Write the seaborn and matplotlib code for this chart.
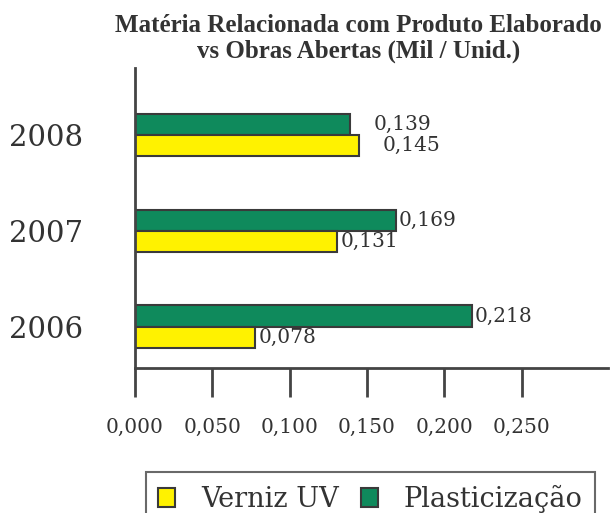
import matplotlib
matplotlib.use("Agg")
import matplotlib.pyplot as plt
import seaborn as sns
import pandas as pd
from matplotlib.patches import Patch

# dados
anos = ["2008", "2007", "2006"]
verniz_uv = [0.145, 0.131, 0.078]
plasticizacao = [0.139, 0.169, 0.218]
rotulos_verniz = ["0,145", "0,131", "0,078"]
rotulos_plast = ["0,139", "0,169", "0,218"]
ticks_x = [0.0, 0.05, 0.10, 0.15, 0.20, 0.25]
ticks_lbl = ["0,000", "0,050", "0,100", "0,150", "0,200", "0,250"]

df = pd.DataFrame({
    "Ano": anos * 2,
    "Valor": plasticizacao + verniz_uv,
    "Serie": ["Plasticização"] * 3 + ["Verniz UV"] * 3,
})

verde = "#0f8a5c"
amarelo = "#fff200"
borda = "#3a3a3a"
texto = "#333333"

sns.set_style("white")
plt.rcParams["font.family"] = ["DejaVu Serif"]

fig = plt.figure(figsize=(6.1, 5.13), dpi=100)
ax = fig.add_axes([0.221, 0.283, 0.776, 0.585])

sns.barplot(data=df, y="Ano", x="Valor", hue="Serie", order=anos,
            hue_order=["Plasticização", "Verniz UV"],
            palette=[verde, amarelo], saturation=1, width=0.44, gap=0,
            edgecolor=borda, linewidth=1.5, orient="h", ax=ax, legend=False)

ax.set_xlim(0, 0.306)
ax.set_ylim(2.43, -0.7)

# rótulos de valor (2008 afastados da barra, como no original)
offsets = [17, 2, 2]
for i, ano in enumerate(anos):
    ax.annotate(rotulos_plast[i], (plasticizacao[i], i - 0.11), xytext=(offsets[i], 0),
                textcoords="offset points", va="center", ha="left",
                fontsize=14.5, color=texto)
    ax.annotate(rotulos_verniz[i], (verniz_uv[i], i + 0.11), xytext=(offsets[i], 0),
                textcoords="offset points", va="center", ha="left",
                fontsize=14.5, color=texto)

ax.set_xticks(ticks_x)
ax.set_xticklabels(ticks_lbl, fontsize=14.5, color=texto)
ax.tick_params(axis="x", direction="out", length=21, width=2, color="#444444",
               pad=15, bottom=True)
ax.tick_params(axis="y", length=0, pad=37, labelsize=21, labelcolor=texto)
ax.set_xlabel("")
ax.set_ylabel("")

for s in ["top", "right"]:
    ax.spines[s].set_visible(False)
for s in ["left", "bottom"]:
    ax.spines[s].set_color("#444444")
    ax.spines[s].set_linewidth(2)

# título em duas linhas
fig.text(0.588, 1 - 32 / 513, "Matéria Relacionada com Produto Elaborado",
         ha="center", va="baseline", fontsize=18, fontweight="bold",
         family="Liberation Serif", color=texto)
fig.text(0.588, 1 - 58 / 513, "vs Obras Abertas (Mil / Unid.)",
         ha="center", va="baseline", fontsize=18, fontweight="bold",
         family="Liberation Serif", color=texto)

handles = [Patch(facecolor=amarelo, edgecolor=borda, linewidth=1.5, label="Verniz UV"),
           Patch(facecolor=verde, edgecolor=borda, linewidth=1.5, label="Plasticização")]
leg = fig.legend(handles=handles, loc="upper center", bbox_to_anchor=(0.607, 0.079),
                 ncol=2, fontsize=19.5, frameon=True, fancybox=False,
                 handlelength=0.65, handleheight=0.7, handletextpad=0.95,
                 columnspacing=0.8, borderpad=0.45, borderaxespad=0)
leg.get_frame().set_edgecolor("#444444")
leg.get_frame().set_linewidth(1.5)
for t in leg.get_texts():
    t.set_color(texto)

fig.savefig("out.png", dpi=100)
